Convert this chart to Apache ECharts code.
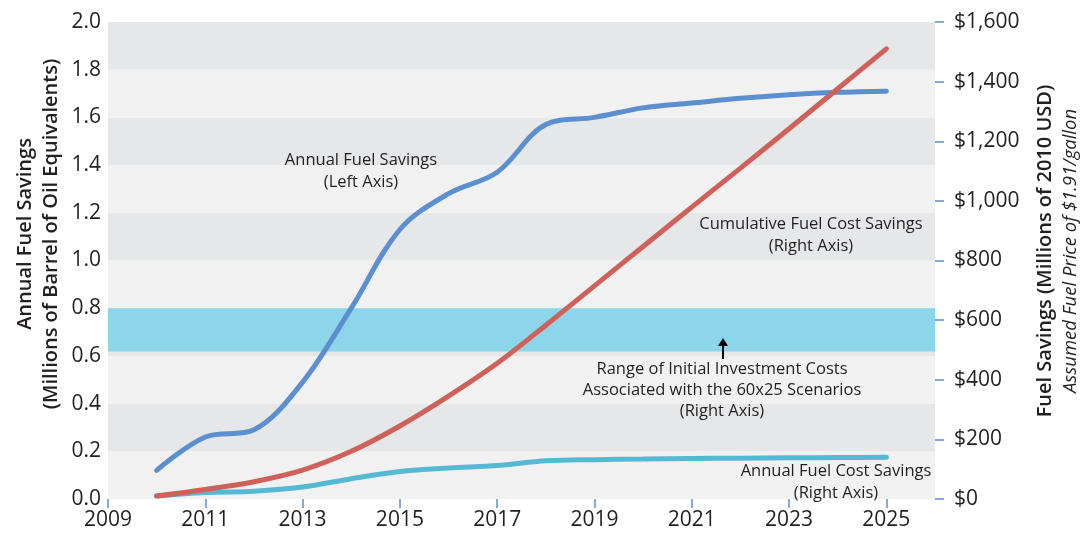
<!DOCTYPE html>
<html>
<head>
<meta charset="utf-8">
<script src="https://cdn.jsdelivr.net/npm/echarts@6/dist/echarts.min.js"></script>
<style>
  html, body { margin: 0; padding: 0; background: #fff; }
  #chart { width: 1086px; height: 536px; }
</style>
</head>
<body>
<div id="chart"></div>
<script>
// years on the x axis
var years = [2010, 2011, 2012, 2013, 2014, 2015, 2016, 2017, 2018, 2019, 2020, 2021, 2022, 2023, 2024, 2025];
// Annual Fuel Savings, millions of barrels of oil equivalent (left axis)
var annualFuelSavings = [0.12, 0.26, 0.29, 0.49, 0.80, 1.13, 1.28, 1.37, 1.57, 1.60, 1.64, 1.66, 1.68, 1.695, 1.705, 1.71];
// Cumulative Fuel Cost Savings, millions of 2010 USD (right axis)
var cumulativeCostSavings = [10, 32, 58, 97, 160, 245, 345, 455, 583, 715, 847, 979, 1110, 1242, 1376, 1510];
// Annual Fuel Cost Savings, millions of 2010 USD (right axis)
var annualCostSavings = [10, 22, 26, 40, 68, 92, 104, 112, 128, 132, 134, 136, 137, 138, 139, 140];
// Range of initial investment costs (right axis)
var investmentRange = [495, 640];

function pairs(xs, ys) {
    return xs.map(function (x, i) { return [x, ys[i]]; });
}

var font = 'Open Sans';
var ink = '#231f20';

var chart = echarts.init(document.getElementById('chart'));
var option = {
    backgroundColor: '#fff',
    animation: false,
    textStyle: { fontFamily: font, color: ink },
    grid: { left: 108, right: 151, top: 22, bottom: 37, containLabel: false, outerBoundsMode: 'none' },
    xAxis: {
        type: 'value',
        min: 2009,
        max: 2026,
        interval: 2,
        axisLine: { show: false },
        axisTick: { show: true, length: 9, lineStyle: { color: '#5b8fcf', width: 1.5 } },
        axisLabel: {
            showMaxLabel: false,
            fontSize: 21, color: ink, fontFamily: font, margin: 11,
            formatter: function (v) { return String(v); }
        },
        splitLine: { show: false }
    },
    yAxis: [
        {
            type: 'value',
            min: 0, max: 2, interval: 0.2,
            position: 'left',
            axisLine: { show: false },
            axisTick: { show: false },
            axisLabel: {
                fontSize: 21, color: ink, fontFamily: font, margin: 7,
                formatter: function (v) { return v.toFixed(1); }
            },
            splitLine: { show: false },
            splitArea: { show: true, areaStyle: { color: ['#f1f1f2', '#e6e7e8'] } }
        },
        {
            type: 'value',
            min: 0, max: 1600, interval: 200,
            position: 'right',
            axisLine: { show: false },
            axisTick: { show: true, length: 9, lineStyle: { color: '#5b8fcf', width: 1.5 } },
            axisLabel: {
                fontSize: 21, color: ink, fontFamily: font, margin: 19,
                formatter: function (v) { return '$' + v.toLocaleString('en-US'); }
            },
            splitLine: { show: false }
        }
    ],
    series: [
        {
            name: 'Range of Initial Investment Costs',
            type: 'line',
            yAxisIndex: 1,
            data: [],
            markArea: {
                silent: true,
                itemStyle: { color: '#8dd6ea' },
                data: [[{ yAxis: investmentRange[0] }, { yAxis: investmentRange[1] }]]
            },
            z: 1
        },
        {
            name: 'Annual Fuel Cost Savings',
            type: 'line',
            yAxisIndex: 1,
            data: pairs(years, annualCostSavings),
            smooth: 0.35,
            showSymbol: false,
            lineStyle: { color: '#56b9d3', width: 5, cap: 'round' },
            z: 3
        },
        {
            name: 'Annual Fuel Savings',
            type: 'line',
            yAxisIndex: 0,
            data: pairs(years, annualFuelSavings),
            smooth: 0.35,
            showSymbol: false,
            lineStyle: { color: '#5b8fcf', width: 5, cap: 'round' },
            z: 4
        },
        {
            name: 'Cumulative Fuel Cost Savings',
            type: 'line',
            yAxisIndex: 1,
            data: pairs(years, cumulativeCostSavings),
            smooth: 0.35,
            showSymbol: false,
            lineStyle: { color: '#d0605a', width: 5, cap: 'round' },
            z: 5
        }
    ],
    graphic: [
        // axis titles
        {
            type: 'text', x: 38, y: 234, rotation: Math.PI / 2, z: 20,
            style: {
                text: '{a|Annual Fuel Savings}\n{a|(Millions of Barrel of Oil Equivalents)}',
                align: 'center', verticalAlign: 'middle',
                rich: {
                    a: { fontSize: 20, fontWeight: 600, fill: ink, fontFamily: font, lineHeight: 26, align: 'center' }
                }
            }
        },
        {
            type: 'text', x: 1058, y: 251, rotation: Math.PI / 2, z: 20,
            style: {
                text: '{a|Fuel Savings (Millions of 2010 USD)}\n{b|Assumed Fuel Price of $1.91/gallon}',
                align: 'center', verticalAlign: 'middle',
                rich: {
                    a: { fontSize: 20, fontWeight: 600, fill: ink, fontFamily: font, lineHeight: 26, align: 'center' },
                    b: { fontSize: 18.5, fill: ink, fontFamily: font, fontStyle: 'italic', lineHeight: 26, align: 'center' }
                }
            }
        },
        // annotations
        {
            type: 'text', x: 361, y: 149, z: 20,
            style: {
                text: 'Annual Fuel Savings\n(Left Axis)', align: 'center',
                font: '16.5px "Open Sans"', fill: ink, lineHeight: 22
            }
        },
        {
            type: 'text', x: 811, y: 213, z: 20,
            style: {
                text: 'Cumulative Fuel Cost Savings\n(Right Axis)', align: 'center',
                font: '16.5px "Open Sans"', fill: ink, lineHeight: 22
            }
        },
        {
            type: 'text', x: 722, y: 359, z: 20,
            style: {
                text: 'Range of Initial Investment Costs\nAssociated with the 60x25 Scenarios\n(Right Axis)', align: 'center',
                font: '16.5px "Open Sans"', fill: ink, lineHeight: 21
            }
        },
        {
            type: 'text', x: 836, y: 460, z: 20,
            style: {
                text: 'Annual Fuel Cost Savings\n(Right Axis)', align: 'center',
                font: '16.5px "Open Sans"', fill: ink, lineHeight: 22
            }
        },
        {
            type: 'line', z: 20,
            shape: { x1: 723, y1: 359, x2: 723, y2: 344 },
            style: { stroke: '#000', lineWidth: 2 }
        },
        {
            type: 'polygon', z: 20,
            shape: { points: [[718, 346], [728, 346], [723, 338]] },
            style: { fill: '#000' }
        }
    ]
};
chart.setOption(option, true);
</script>
</body>
</html>
